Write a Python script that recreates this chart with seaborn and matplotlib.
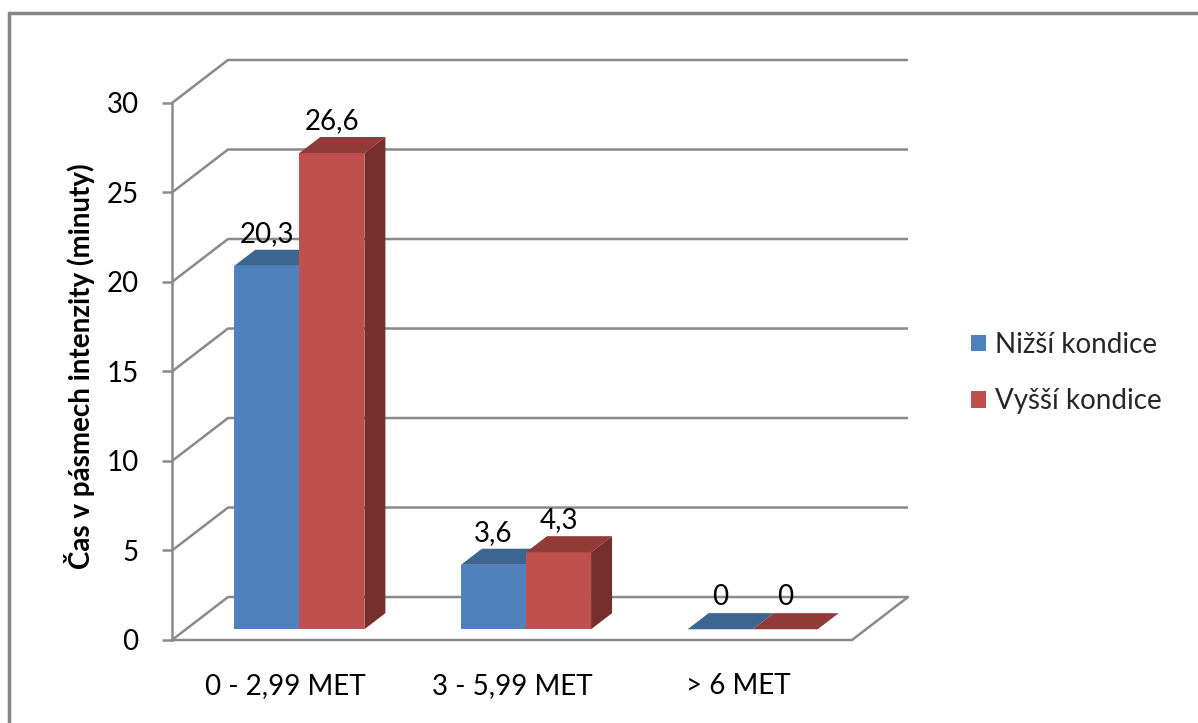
import matplotlib
matplotlib.use("Agg")
import matplotlib.pyplot as plt
from matplotlib.patches import Polygon, Patch
from matplotlib.lines import Line2D
import pandas as pd
import seaborn as sns

# --- data -------------------------------------------------------------
categories = ["0 - 2,99 MET", "3 - 5,99 MET", "> 6 MET"]
groups = ["Nižší kondice", "Vyšší kondice"]
low_fitness = [20.3, 3.6, 0.0]
high_fitness = [26.6, 4.3, 0.0]
y_ticks = [0, 5, 10, 15, 20, 25, 30]
y_title = "Čas v pásmech intenzity (minuty)"

# --- styling ----------------------------------------------------------
front_colors = ["#4F81BD", "#C0504D"]
top_colors = ["#3C6591", "#913C39"]
side_colors = ["#2F4E74", "#772F2D"]
grid_color = "#8A8A8A"

sns.set_theme(style="white")
plt.rcParams["font.family"] = ["Lato", "DejaVu Sans"]
FS = 20

# oblique depth vector (x in category units, y in value units)
GX, GY = 0.247, 2.40
BAR_FRONT = 0.25   # depth where the bar front faces stand
BAR_DEPTH = 0.375  # depth of each bar

fig = plt.figure(figsize=(11.98, 7.23), dpi=100)
ax = fig.add_axes([172 / 1198, 83 / 723, 736 / 1198, 580 / 723])

df = pd.DataFrame({
    "pasmo": categories * 2,
    "skupina": [groups[0]] * len(categories) + [groups[1]] * len(categories),
    "minuty": low_fitness + high_fitness,
})

sns.barplot(data=df, x="pasmo", y="minuty", hue="skupina",
            order=categories, hue_order=groups, palette=front_colors,
            width=0.574, gap=0, saturation=1, linewidth=0,
            legend=False, ax=ax)

ax.set_xlim(-0.5, 2.5 + GX)
ax.set_ylim(0, 32.4)

# walls and floor
for v in y_ticks:
    ax.plot([-0.5, -0.5 + GX, 2.5 + GX], [v, v + GY, v + GY],
            color=grid_color, lw=1.8, zorder=1, clip_on=False,
            solid_capstyle="butt")
ax.plot([-0.5, 2.5, 2.5 + GX], [0, 0, GY], color=grid_color, lw=1.8,
        zorder=1, clip_on=False)

# turn the flat bars into boxes
bx, by = BAR_DEPTH * GX, BAR_DEPTH * GY
for k, cont in enumerate(ax.containers):
    for bar in cont:
        h = bar.get_height()
        w = bar.get_width()
        x0 = bar.get_x() + BAR_FRONT * GX
        y0 = BAR_FRONT * GY
        bar.set_x(x0)
        bar.set_y(y0)
        bar.set_zorder(3 + k)
        top = y0 + h
        ax.add_patch(Polygon([(x0, top), (x0 + w, top), (x0 + w + bx, top + by),
                              (x0 + bx, top + by)], closed=True,
                             facecolor=top_colors[k], edgecolor="none",
                             zorder=3 + k))
        ax.add_patch(Polygon([(x0 + w, y0), (x0 + w, top), (x0 + w + bx, top + by),
                              (x0 + w + bx, y0 + by)], closed=True,
                             facecolor=side_colors[k], edgecolor="none",
                             zorder=3 + k))
        label = f"{h:g}".replace(".", ",")
        ax.text(x0 + w / 2, top + 1.8, label, ha="center", va="center",
                fontsize=FS, color="black", zorder=6)

# axes
for s in ["top", "right", "bottom"]:
    ax.spines[s].set_visible(False)
ax.spines["left"].set_color(grid_color)
ax.spines["left"].set_linewidth(1.8)
ax.spines["left"].set_bounds(0, 30)
ax.set_yticks(y_ticks)
ax.set_yticklabels([str(t) for t in y_ticks])
ax.tick_params(axis="y", length=7, width=1.8, color=grid_color, pad=17,
               labelsize=FS, labelcolor="black", left=True)
ax.set_xticks(range(len(categories)))
ax.set_xticklabels(categories)
ax.tick_params(axis="x", length=0, pad=24, labelsize=FS, labelcolor="black")
ax.set_xlabel("")
ax.set_ylabel("")
ax.grid(False)
ax.patch.set_visible(False)

fig.text(80 / 1198, 1 - 366 / 723, y_title, rotation=90, ha="center",
         va="center", fontsize=FS, fontweight="bold", color="black")

handles = [Patch(facecolor=c, edgecolor="none") for c in front_colors]
fig.legend(handles, groups, loc="center left",
           bbox_to_anchor=(971 / 1198, 1 - 373 / 723), frameon=False,
           fontsize=FS, handlelength=0.55, handleheight=0.55,
           handletextpad=0.3, labelspacing=1.1, borderpad=0,
           borderaxespad=0)

# chart frame (top and left edges)
fig.add_artist(Line2D([9 / 1198, 1.0], [1 - 13 / 723, 1 - 13 / 723],
                      transform=fig.transFigure, color="#858585", lw=2.5))
fig.add_artist(Line2D([9 / 1198, 9 / 1198], [1 - 13 / 723, 0],
                      transform=fig.transFigure, color="#858585", lw=2.5))

fig.savefig("out.png", dpi=100)
